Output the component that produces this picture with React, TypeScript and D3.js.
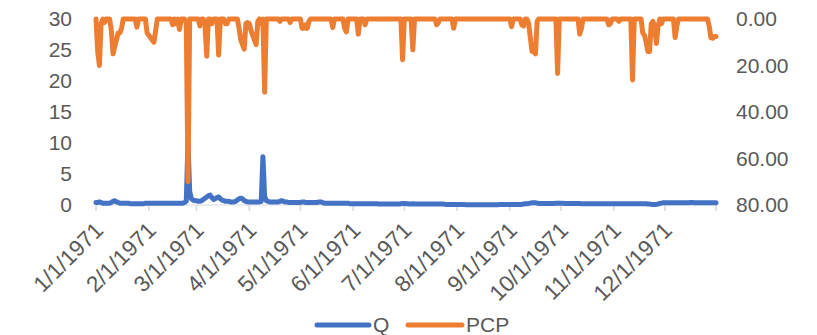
// Q (left axis) and PCP (right axis, inverted), daily values for 1971.
import * as d3 from "d3";

const START = new Date(1971, 0, 1);
const END = new Date(1971, 11, 31);

// Daily Q by month
const qJan = [0.4, 0.4, 0.5, 0.4, 0.3, 0.3, 0.3, 0.3, 0.3, 0.4, 0.6, 0.7, 0.5, 0.4, 0.3, 0.3, 0.3, 0.3, 0.3, 0.3, 0.2, 0.2, 0.2, 0.2, 0.2, 0.2, 0.2, 0.2, 0.2, 0.3, 0.3];
const qFeb = [0.3, 0.3, 0.3, 0.3, 0.3, 0.3, 0.3, 0.3, 0.3, 0.3, 0.3, 0.3, 0.3, 0.3, 0.3, 0.3, 0.3, 0.3, 0.3, 0.3, 0.3, 0.4, 0.6, 10.2, 2.2, 1.0, 0.8, 0.7];
const qMar = [0.7, 0.6, 0.6, 0.7, 0.9, 1.1, 1.3, 1.5, 1.6, 1.2, 0.9, 1.0, 1.2, 1.3, 1.0, 0.8, 0.7, 0.6, 0.6, 0.6, 0.5, 0.5, 0.5, 0.6, 0.8, 1.0, 1.1, 1.0, 0.7, 0.6, 0.5];
const qApr = [0.5, 0.5, 0.5, 0.5, 0.5, 0.5, 0.5, 0.6, 7.8, 1.4, 0.7, 0.6, 0.5, 0.5, 0.5, 0.5, 0.5, 0.5, 0.6, 0.7, 0.6, 0.5, 0.5, 0.4, 0.4, 0.4, 0.4, 0.4, 0.4, 0.4];
const qMay = [0.4, 0.5, 0.5, 0.4, 0.4, 0.4, 0.4, 0.4, 0.4, 0.4, 0.4, 0.5, 0.5, 0.4, 0.3, 0.3, 0.3, 0.3, 0.3, 0.3, 0.3, 0.3, 0.3, 0.3, 0.3, 0.3, 0.3, 0.3, 0.3, 0.2, 0.2];
const qJun = [0.2, 0.2, 0.2, 0.2, 0.2, 0.2, 0.2, 0.2, 0.2, 0.2, 0.2, 0.2, 0.2, 0.2, 0.2, 0.15, 0.15, 0.15, 0.15, 0.15, 0.15, 0.15, 0.15, 0.15, 0.15, 0.15, 0.15, 0.15, 0.2, 0.25];
const qJul = [0.25, 0.2, 0.2, 0.15, 0.15, 0.2, 0.15, 0.15, 0.15, 0.15, 0.15, 0.15, 0.15, 0.15, 0.15, 0.15, 0.15, 0.15, 0.15, 0.15, 0.15, 0.15, 0.15, 0.15, 0.1, 0.1, 0.1, 0.1, 0.1, 0.1, 0.1];
const qAug = [0.1, 0.1, 0.1, 0.1, 0.1, 0.05, 0.05, 0.05, 0.05, 0.05, 0.05, 0.05, 0.05, 0.05, 0.05, 0.05, 0.05, 0.05, 0.05, 0.05, 0.05, 0.05, 0.05, 0.05, 0.05, 0.1, 0.1, 0.1, 0.1, 0.1, 0.1];
const qSep = [0.1, 0.1, 0.1, 0.1, 0.1, 0.1, 0.1, 0.1, 0.15, 0.2, 0.2, 0.25, 0.3, 0.35, 0.35, 0.35, 0.3, 0.25, 0.25, 0.25, 0.25, 0.25, 0.25, 0.25, 0.25, 0.25, 0.25, 0.3, 0.3, 0.3];
const qOct = [0.3, 0.3, 0.25, 0.25, 0.25, 0.25, 0.25, 0.25, 0.25, 0.25, 0.25, 0.25, 0.2, 0.2, 0.2, 0.2, 0.2, 0.2, 0.2, 0.2, 0.2, 0.2, 0.2, 0.2, 0.2, 0.2, 0.2, 0.2, 0.2, 0.2, 0.2];
const qNov = [0.2, 0.2, 0.2, 0.2, 0.2, 0.2, 0.2, 0.2, 0.2, 0.2, 0.2, 0.2, 0.2, 0.2, 0.2, 0.2, 0.2, 0.2, 0.2, 0.2, 0.15, 0.15, 0.1, 0.1, 0.1, 0.1, 0.15, 0.25, 0.3, 0.35];
const qDec = [0.35, 0.35, 0.35, 0.35, 0.35, 0.35, 0.35, 0.35, 0.35, 0.35, 0.35, 0.35, 0.35, 0.35, 0.35, 0.4, 0.4, 0.35, 0.35, 0.35, 0.35, 0.35, 0.35, 0.35, 0.35, 0.35, 0.35, 0.35, 0.35, 0.35, 0.35];

// PCP: [day of year (0 = 1/1), value]; every other day is 0
const pcpEvents: [number, number][] = [
  [1, 14], [2, 20], [3, 2], [5, 1.5],
  [9, 5], [10, 15], [11, 12], [12, 9], [13, 6], [14, 6], [15, 4],
  [24, 3.5],
  [30, 6], [31, 7], [32, 8], [33, 9], [34, 10], [35, 5],
  [45, 2.5], [47, 2], [49, 4.5],
  [53, 2], [54, 70],
  [61, 3], [64, 3], [65, 16], [68, 2], [72, 15.5], [76, 2], [77, 2],
  [84, 4], [85, 9], [86, 11], [87, 13], [88, 2], [89, 1.5], [90, 2],
  [91, 5], [92, 7], [93, 9], [94, 11], [95, 1], [97, 2], [99, 31.5],
  [108, 1], [114, 1.5],
  [121, 4], [122, 4], [123, 2.5], [124, 4], [125, 1],
  [139, 3.7], [146, 4], [147, 5.5], [154, 6.5], [158, 2.5],
  [180, 17.5], [186, 13.3], [200, 2.5], [201, 1.5], [210, 4],
  [244, 3.3], [250, 2.5], [251, 3],
  [254, 2], [255, 8], [256, 14], [257, 14], [258, 15], [259, 1],
  [271, 23.4], [284, 6.5], [285, 4], [301, 2.5], [302, 2], [307, 1],
  [315, 26.2], [321, 6], [322, 7], [323, 10], [324, 14], [325, 14], [326, 2],
  [327, 1], [328, 4], [329, 10.5], [330, 3], [332, 2],
  [340, 8], [341, 3], [360, 3], [361, 8], [362, 8.3], [363, 7.5], [364, 7.5],
];

const leftTicks = [0, 5, 10, 15, 20, 25, 30];
const rightTicks = [0, 20, 40, 60, 80];

const BLUE = "#4472C4";
const ORANGE = "#ED7D31";
const TEXT = "#595959";
const AXIS = "#D9D9D9";
const FONT = "'Liberation Sans', Arial, sans-serif";

const days = d3.timeDay.range(START, new Date(1972, 0, 1));
const qValues = [...qJan, ...qFeb, ...qMar, ...qApr, ...qMay, ...qJun, ...qJul, ...qAug, ...qSep, ...qOct, ...qNov, ...qDec];
const pcpMap = new Map(pcpEvents);
const rows = days.map((d, i) => ({ date: d, q: qValues[i] ?? 0, pcp: pcpMap.get(i) ?? 0 }));

export default function App() {
  const W = 817;
  const H = 335;
  const x = d3.scaleTime().domain([START, END]).range([96, 716]);
  const yL = d3.scaleLinear().domain([0, 30]).range([205, 19]);
  const yR = d3.scaleLinear().domain([0, 80]).range([19, 205]);

  const qLine = d3.line<(typeof rows)[number]>().x((d) => x(d.date)).y((d) => yL(d.q));
  const pLine = d3.line<(typeof rows)[number]>().x((d) => x(d.date)).y((d) => yR(d.pcp));

  const months = d3.timeMonth.range(START, new Date(1972, 0, 1));
  const tickDates = [...months, END];
  const fmt = (d: Date) => `${d.getMonth() + 1}/${d.getDate()}/${d.getFullYear()}`;

  return (
    <svg
      width={W}
      height={H}
      style={{ position: "absolute", left: 0, top: 0, background: "#fff" }}
      fontFamily={FONT}
    >
      <line x1={96} x2={716} y1={205} y2={205} stroke={AXIS} strokeWidth={1} />
      {tickDates.map((d, i) => (
        <line key={i} x1={x(d)} x2={x(d)} y1={205} y2={211} stroke={AXIS} strokeWidth={1.5} />
      ))}
      {leftTicks.map((t) => (
        <text key={t} x={72} y={yL(t)} dy="0.35em" textAnchor="end" fontSize={21} fill={TEXT}>
          {t}
        </text>
      ))}
      {rightTicks.map((t) => (
        <text key={t} x={736} y={yR(t)} dy="0.35em" textAnchor="start" fontSize={21} fill={TEXT}>
          {d3.format(".2f")(t)}
        </text>
      ))}
      {months.map((d, i) => (
        <text
          key={i}
          transform={`translate(${x(d) + 3},${226}) rotate(-45)`}
          dy="0.35em"
          textAnchor="end"
          fontSize={22.5}
          fill={TEXT}
        >
          {fmt(d)}
        </text>
      ))}
      <path d={qLine(rows) ?? ""} fill="none" stroke={BLUE} strokeWidth={5} strokeLinejoin="round" strokeLinecap="round" />
      <path d={pLine(rows) ?? ""} fill="none" stroke={ORANGE} strokeWidth={5} strokeLinejoin="round" strokeLinecap="round" />

      <g>
        <line x1={317} x2={369} y1={325} y2={325} stroke={BLUE} strokeWidth={5} strokeLinecap="round" />
        <text x={373} y={325} dy="0.35em" fontSize={21} fill={TEXT}>Q</text>
        <line x1={408} x2={462} y1={325} y2={325} stroke={ORANGE} strokeWidth={5} strokeLinecap="round" />
        <text x={466} y={325} dy="0.35em" fontSize={21} fill={TEXT}>PCP</text>
      </g>
    </svg>
  );
}
